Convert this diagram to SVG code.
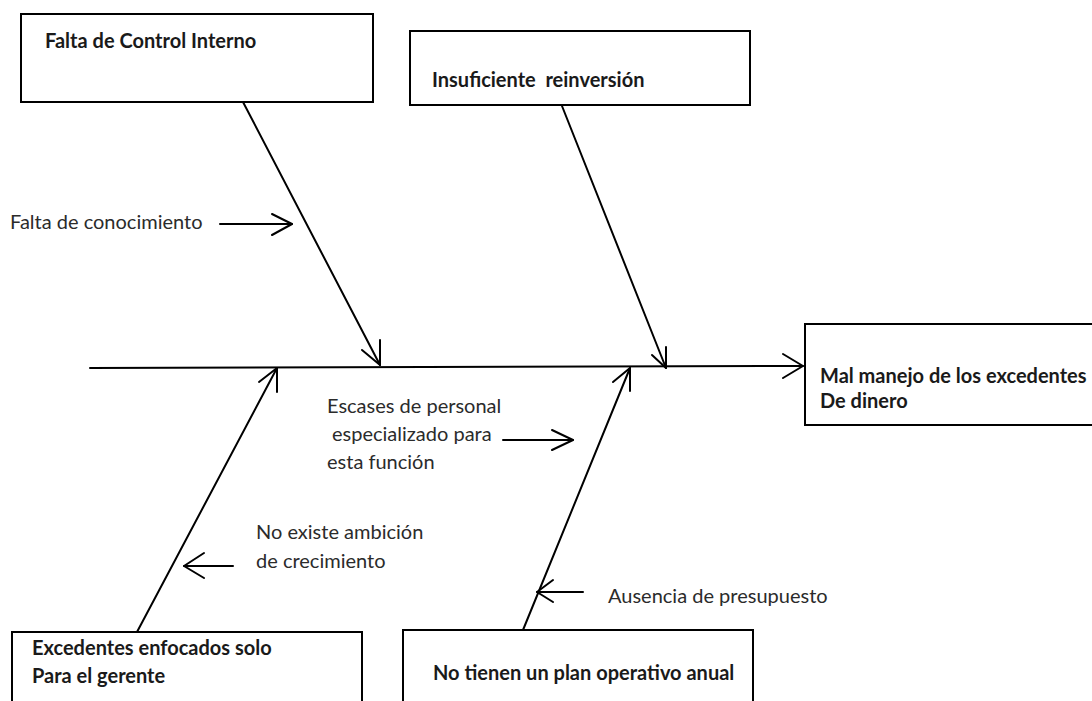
<svg xmlns="http://www.w3.org/2000/svg" width="1092" height="701" viewBox="0 0 1092 701">
  <style>
    .box { fill: #ffffff; stroke: #000000; stroke-width: 2; }
    .line { fill: none; stroke: #000000; stroke-width: 2; stroke-linecap: round; stroke-linejoin: round; }
    .title { font-family: Lato, "Liberation Sans", sans-serif; font-weight: bold; font-size: 20px; fill: #1a1a1a; }
    .note { font-family: Lato, "Liberation Sans", sans-serif; font-size: 20px; fill: #2b2b2b; }
  </style>
  <rect width="1092" height="701" fill="#ffffff"/>

  <!-- cause boxes -->
  <g id="node-control-interno">
    <rect class="box" x="21" y="14" width="352" height="88"/>
    <text class="title" x="45" y="48">Falta de Control Interno</text>
  </g>
  <g id="node-reinversion">
    <rect class="box" x="410" y="31" width="340" height="74"/>
    <text class="title" x="432" y="87" xml:space="preserve">Insuficiente  reinversión</text>
  </g>
  <g id="node-efecto">
    <rect class="box" x="805" y="324" width="300" height="101"/>
    <text class="title" x="820" y="383">Mal manejo de los excedentes</text>
    <text class="title" x="820" y="408">De dinero</text>
  </g>
  <g id="node-excedentes">
    <rect class="box" x="12" y="632" width="350" height="90"/>
    <text class="title" x="32" y="655">Excedentes enfocados solo</text>
    <text class="title" x="32" y="683">Para el gerente</text>
  </g>
  <g id="node-plan">
    <rect class="box" x="403" y="630" width="350" height="90"/>
    <text class="title" x="433" y="680">No tienen un plan operativo anual</text>
  </g>

  <!-- sub-cause labels -->
  <g id="label-conocimiento">
    <text class="note" x="10" y="229">Falta de conocimiento</text>
  </g>
  <g id="label-personal">
    <text class="note" x="327" y="413">Escases de personal</text>
    <text class="note" x="332" y="441">especializado para</text>
    <text class="note" x="327" y="469">esta función</text>
  </g>
  <g id="label-ambicion">
    <text class="note" x="256" y="539">No existe ambición</text>
    <text class="note" x="256" y="568">de crecimiento</text>
  </g>
  <g id="label-presupuesto">
    <text class="note" x="608" y="603">Ausencia de presupuesto</text>
  </g>

  <!-- spine, bones and small arrows -->
  <g id="connectors">
    <path class="line" d="M90 368 L803 366"/>
    <path class="line" d="M783 354 L803 366 L783 378"/>

    <path class="line" d="M243 102 L380 365"/>
    <path class="line" d="M362 350 L380 365 L380 340"/>

    <path class="line" d="M562 106 L666 368"/>
    <path class="line" d="M652 355 L666 368 L666 347"/>

    <path class="line" d="M137 632 L277 368"/>
    <path class="line" d="M259 382 L277 368 L277 392"/>

    <path class="line" d="M523 630 L630 368"/>
    <path class="line" d="M613 382 L630 368 L630 391"/>

    <path class="line" d="M220 224 L292 224"/>
    <path class="line" d="M272 214 L292 224 L272 235"/>

    <path class="line" d="M503 440 L573 440"/>
    <path class="line" d="M552 430 L573 440 L552 450"/>

    <path class="line" d="M233 566 L184 566"/>
    <path class="line" d="M204 553 L184 566 L204 578"/>

    <path class="line" d="M583 592 L537 592"/>
    <path class="line" d="M553 580 L537 592 L553 602"/>
  </g>
</svg>
